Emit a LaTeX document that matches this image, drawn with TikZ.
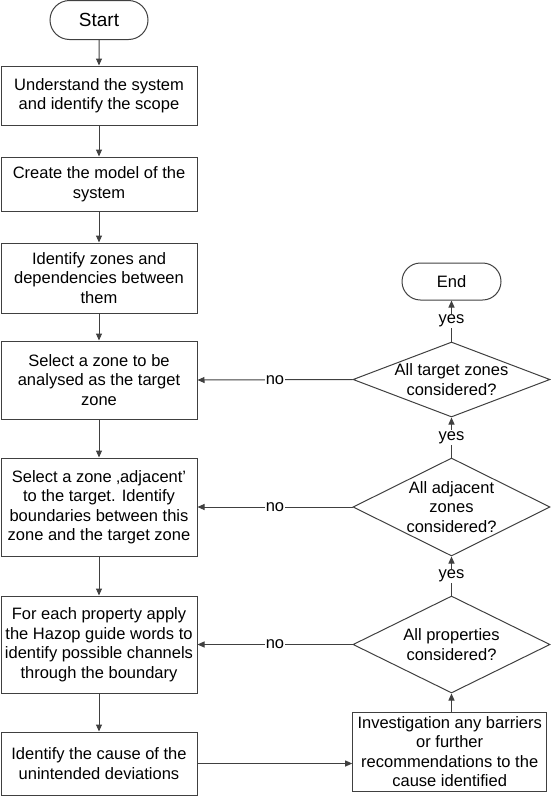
\documentclass[tikz,border=0pt]{standalone}
\usepackage{fontspec}
\setmainfont{Liberation Sans}
\usetikzlibrary{shapes.geometric,shapes.misc,arrows.meta}
\definecolor{ln}{HTML}{404040}
\begin{document}
\begin{tikzpicture}[x=1pt,y=-1pt,
  every node/.style={font=\fontsize{16.5}{19.5}\selectfont},
  proc/.style={draw=ln,line width=1pt,minimum width=196pt,align=center,inner sep=0pt},
  term/.style={draw=ln,line width=1pt,rounded rectangle,inner sep=0pt},
  dec/.style={draw=ln,line width=1pt,diamond,minimum width=197pt,inner sep=0pt},
  dtext/.style={align=center,inner sep=0pt},
  arr/.style={draw=ln,line width=1pt,-{Triangle[length=7pt,width=6pt]}},
  lbl/.style={fill=white,inner sep=1pt}]
\useasboundingbox (0,0) rectangle (550,796);

\node[term,minimum width=98pt,minimum height=39pt,font=\fontsize{19}{22}\selectfont] (start) at (99,20) {Start};
\node[proc,minimum height=59pt] (b1) at (99,95.5) {Understand the system\\and identify the scope};
\node[proc,minimum height=54pt] (b2) at (99,184) {Create the model of the\\system};
\node[proc,minimum height=70pt] (b3) at (99,278) {Identify zones and\\dependencies between\\them};
\node[proc,minimum height=78pt] (b4) at (99,380) {Select a zone to be\\analysed as the target\\zone};
\node[proc,minimum height=98pt] (b5) at (99,507) {Select a zone ‚adjacent’\\to the target. Identify\\boundaries between this\\zone and the target zone};
\node[proc,minimum height=97pt] (b6) at (99,644.5) {For each property apply\\the Hazop guide words to\\identify possible channels\\through the boundary};
\node[proc,minimum height=63pt] (b7) at (99,763.5) {Identify the cause of the\\unintended deviations};
\node[proc,minimum width=194pt,minimum height=79pt] (b8) at (449.7,751.5) {Investigation any barriers\\or further\\recommendations to the\\cause identified};

\node[term,minimum width=99pt,minimum height=37pt] (end) at (451.5,281.5) {End};
\node[dec,minimum height=75pt] (d1) at (451.5,379.5) {};
\node[dtext] (t1) at (d1) {All target zones\\considered?};
\node[dec,minimum height=98pt] (d2) at (451.5,507) {};
\node[dtext] (t2) at (d2) {All adjacent\\zones\\considered?};
\node[dec,minimum height=97pt] (d3) at (451.5,644.5) {};
\node[dtext] (t3) at (d3) {All properties\\considered?};

\draw[arr] (start) -- (b1);
\draw[arr] (b1) -- (b2);
\draw[arr] (b2) -- (b3);
\draw[arr] (b3) -- (b4);
\draw[arr] (b4) -- (b5);
\draw[arr] (b5) -- (b6);
\draw[arr] (b6) -- (b7);
\draw[arr] (b7.east) -- (b7.east -| b8.west);
\draw[arr] (d3.south |- b8.north) -- (d3.south);
\draw[arr] (d3.north) -- node[lbl]{yes} (d2.south);
\draw[arr] (d2.north) -- node[lbl]{yes} (d1.south);
\draw[arr] (d1.north) -- node[lbl]{yes} (end.south);
\draw[arr] (d1.west) -- node[lbl]{no} (b4.east);
\draw[arr] (d2.west) -- node[lbl]{no} (b5.east);
\draw[arr] (d3.west) -- node[lbl]{no} (b6.east);
\end{tikzpicture}
\end{document}
